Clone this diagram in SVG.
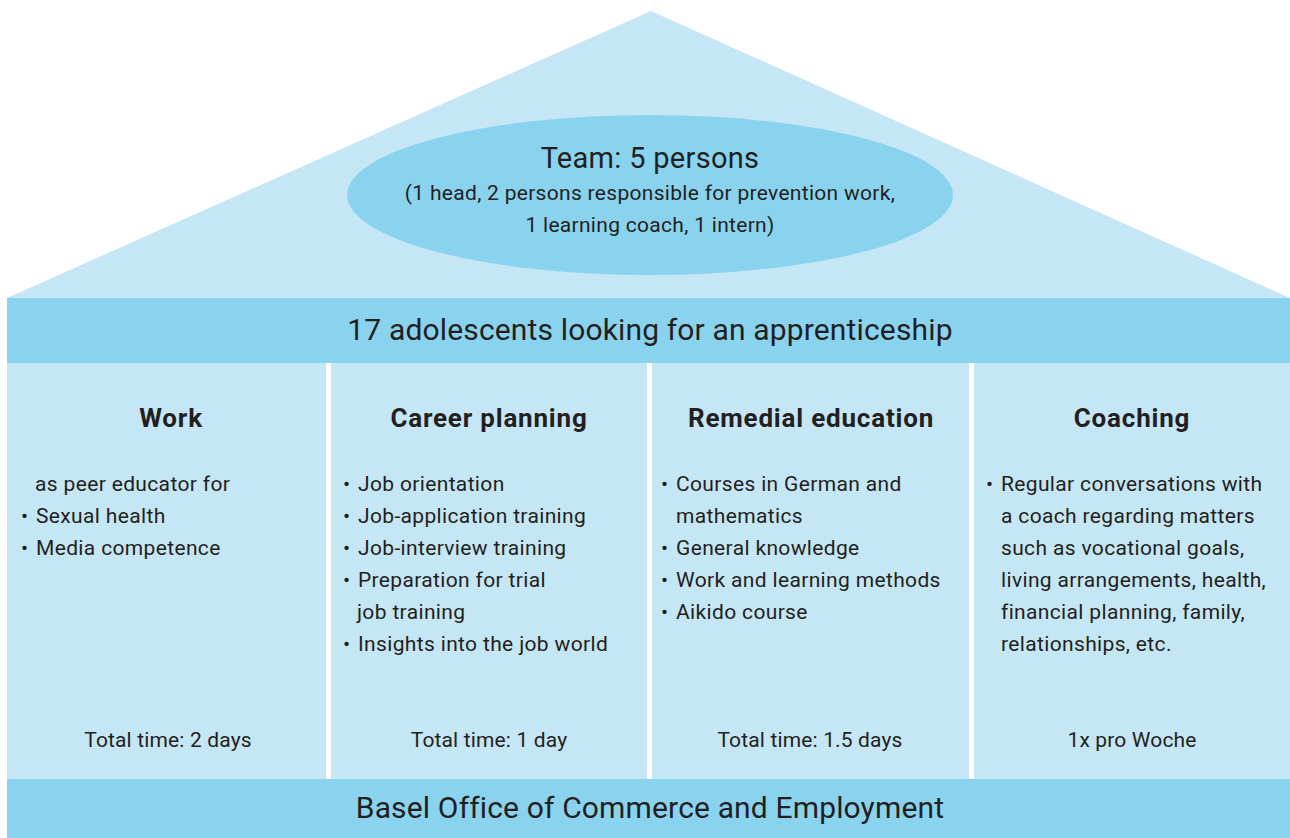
<svg xmlns="http://www.w3.org/2000/svg" width="1290" height="838" viewBox="0 0 1290 838">
  <style>
    .light { fill: #c5e6f5; }
    .dark { fill: #8ad3ef; }
    text { font-family: Roboto, "Liberation Sans", sans-serif; fill: #231f20; }
    .band { font-size: 30px; letter-spacing: 0.15px; text-anchor: middle; }
    .title { font-size: 29px; letter-spacing: 0.3px; text-anchor: middle; }
    .sub { font-size: 21px; letter-spacing: 0.3px; text-anchor: middle; }
    .head { font-size: 26px; font-weight: bold; letter-spacing: 0.8px; text-anchor: middle; }
    .body { font-size: 21px; letter-spacing: 0.35px; }
    .foot { font-size: 21px; letter-spacing: 0.15px; text-anchor: middle; }
  </style>

  <!-- roof -->
  <g id="roof">
    <polygon class="light" points="7,298 651,11 1290,298"/>
    <ellipse class="dark" cx="650" cy="195" rx="303" ry="80"/>
    <text class="title" x="650" y="168">Team: 5 persons</text>
    <text class="sub" x="650" y="200">(1 head, 2 persons responsible for prevention work,</text>
    <text class="sub" x="650" y="232">1 learning coach, 1 intern)</text>
  </g>

  <!-- beam -->
  <g id="beam">
    <rect class="dark" x="7" y="298" width="1283" height="65"/>
    <text class="band" x="650" y="340">17 adolescents looking for an apprenticeship</text>
  </g>

  <!-- pillars -->
  <g id="pillar-work">
    <rect class="light" x="7" y="363" width="319" height="416"/>
    <text class="head" x="171" y="427">Work</text>
    <text class="body" x="35" y="491">as peer educator for</text>
    <text class="body" y="523"><tspan x="21">•</tspan><tspan x="36">Sexual health</tspan></text>
    <text class="body" y="555"><tspan x="21">•</tspan><tspan x="36">Media competence</tspan></text>
    <text class="foot" x="168" y="747">Total time: 2 days</text>
  </g>

  <g id="pillar-career">
    <rect class="light" x="331" y="363" width="316" height="416"/>
    <text class="head" x="489" y="427">Career planning</text>
    <text class="body" y="491"><tspan x="343">•</tspan><tspan x="358">Job orientation</tspan></text>
    <text class="body" y="523"><tspan x="343">•</tspan><tspan x="358">Job-application training</tspan></text>
    <text class="body" y="555"><tspan x="343">•</tspan><tspan x="358">Job-interview training</tspan></text>
    <text class="body" y="587"><tspan x="343">•</tspan><tspan x="358">Preparation for trial</tspan></text>
    <text class="body" x="357" y="619">job training</text>
    <text class="body" y="651"><tspan x="343">•</tspan><tspan x="358">Insights into the job world</tspan></text>
    <text class="foot" x="489" y="747">Total time: 1 day</text>
  </g>

  <g id="pillar-remedial">
    <rect class="light" x="652" y="363" width="317" height="416"/>
    <text class="head" x="811" y="427">Remedial education</text>
    <text class="body" y="491"><tspan x="661">•</tspan><tspan x="676">Courses in German and</tspan></text>
    <text class="body" x="676" y="523">mathematics</text>
    <text class="body" y="555"><tspan x="661">•</tspan><tspan x="676">General knowledge</tspan></text>
    <text class="body" y="587"><tspan x="661">•</tspan><tspan x="676">Work and learning methods</tspan></text>
    <text class="body" y="619"><tspan x="661">•</tspan><tspan x="676">Aikido course</tspan></text>
    <text class="foot" x="810" y="747">Total time: 1.5 days</text>
  </g>

  <g id="pillar-coaching">
    <rect class="light" x="974" y="363" width="316" height="416"/>
    <text class="head" x="1132" y="427">Coaching</text>
    <text class="body" y="491"><tspan x="986">•</tspan><tspan x="1001">Regular conversations with</tspan></text>
    <text class="body" x="1001" y="523">a coach regarding matters</text>
    <text class="body" x="1001" y="555">such as vocational goals,</text>
    <text class="body" x="1001" y="587">living arrangements, health,</text>
    <text class="body" x="1001" y="619">financial planning, family,</text>
    <text class="body" x="1001" y="651">relationships, etc.</text>
    <text class="foot" x="1132" y="747">1x pro Woche</text>
  </g>

  <!-- foundation -->
  <g id="foundation">
    <rect class="dark" x="7" y="779" width="1283" height="59"/>
    <text class="band" x="650" y="818">Basel Office of Commerce and Employment</text>
  </g>

  <g id="connectors"/>
</svg>
